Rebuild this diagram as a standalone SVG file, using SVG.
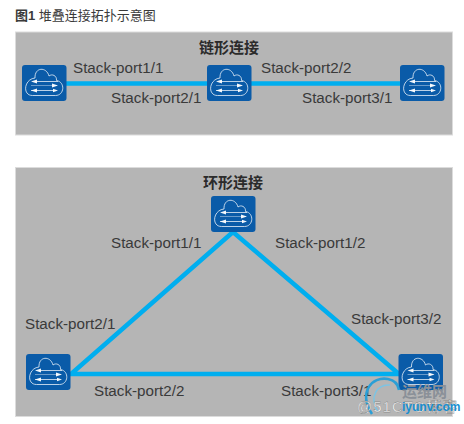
<svg xmlns="http://www.w3.org/2000/svg" width="464" height="424" viewBox="0 0 464 424">
<style>
text{font-family:"Liberation Sans",Arial,sans-serif;fill:#3a3a3a}
.p{font-size:15.200px}
.h{font-family:"Liberation Sans","Noto Sans CJK SC",sans-serif;font-size:15px;font-weight:bold;fill:#2b2b2b}
.panel{fill:#b5b5b5;stroke:#dcdcdc;stroke-width:1}
.link{stroke:#00aeef;stroke-width:4.500;fill:none}
.c{fill:none;stroke:#e8f0f8;stroke-width:.8}
.a{fill:#fff}
</style>
<defs>
<g id="sw">
<rect width="44.500" height="36" rx="3" fill="#0a5ba8"/>
<path class="c" d="M10.500 30.500H33.500C42.500 30.500 43.500 17 34.500 15.500C35 10.500 30 8.500 27 11C24.500 1.500 12.500 2 13 13C2 14 0 30.500 10.500 30.500Z"/>
<path class="c" d="M13 16.500H36M9 25.500H32" stroke-width=".7"/>
<path class="c" d="M9 20.500H35" stroke-opacity=".55" stroke-width="1.800"/>
<path class="a" d="M36 20.500L30 18.500V22.500ZM9 16.500L15 14.500V18.500ZM9 25.500L15 23.500V27.500ZM36 25.500L31 23.800V27.200Z" opacity=".95"/>
</g>
</defs>
<text x="15" y="20" style="font-family:'Liberation Sans','Noto Sans CJK SC',sans-serif;font-size:13px"><tspan font-weight="bold">图1</tspan> 堆叠连接拓扑示意图</text>
<rect class="panel" x="15.500" y="32" width="437" height="103"/>
<rect class="panel" x="15.500" y="167.500" width="437" height="249"/>
<g id="connectors">
<path class="link" d="M66 83.500H400"/>
<path class="link" d="M233 232L71 374H399L233 232"/>
</g>
<g id="sw1"><use href="#sw" x="22" y="65"/></g>
<g id="sw2"><use href="#sw" x="207" y="65"/></g>
<g id="sw3"><use href="#sw" x="400" y="65"/></g>
<g id="sw4"><use href="#sw" x="211" y="196"/></g>
<g id="sw5"><use href="#sw" x="26" y="354"/></g>
<g id="sw6"><use href="#sw" x="398.500" y="354"/></g>
<text class="h" x="199" y="53">链形连接</text>
<text class="h" x="203" y="188">环形连接</text>
<text class="p" x="73" y="73">Stack-port1/1</text>
<text class="p" x="111" y="103">Stack-port2/1</text>
<text class="p" x="261" y="73">Stack-port2/2</text>
<text class="p" x="302" y="103">Stack-port3/1</text>
<text class="p" x="111" y="248">Stack-port1/1</text>
<text class="p" x="275" y="248">Stack-port1/2</text>
<text class="p" x="25" y="329">Stack-port2/1</text>
<text class="p" x="351" y="324">Stack-port3/2</text>
<text class="p" x="94" y="396">Stack-port2/2</text>
<text class="p" x="281" y="396">Stack-port3/1</text>
<g id="watermark">
<path d="M372 414C358 392 372 376 388 379C394 380 398 384 399 390" fill="none" stroke="#2a9fd6" stroke-width="2.500"/>
<path d="M378 412C368 396 378 384 390 385" fill="none" stroke="#7cc4e4" stroke-width="1.500"/>
<text x="402" y="397" style="font-family:'Liberation Sans','Noto Sans CJK SC',sans-serif;font-size:15px;font-weight:bold;fill:#8a9098">运维网</text>
<text x="357" y="412" style="font-family:'Liberation Sans','Noto Sans CJK SC',sans-serif;font-size:15px;letter-spacing:1px;fill:#fff;stroke:#666;stroke-width:.3">@51CTO博客</text>
<text x="402" y="411" style="font-size:12px;font-weight:bold;fill:#1a8fd0">iyunv.com</text>
</g>
</svg>
